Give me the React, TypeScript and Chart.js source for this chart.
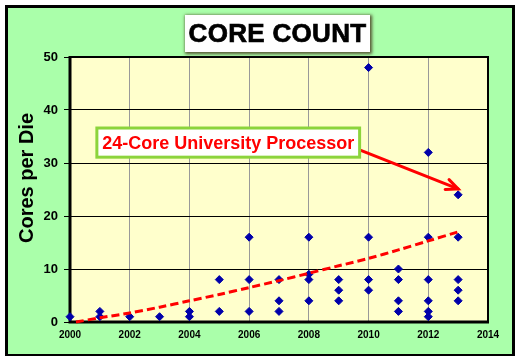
import React, { useEffect, useRef } from "react";
import { Chart, registerables } from "chart.js";

Chart.register(...registerables);

const chartTitle = "CORE COUNT";
const yAxisTitle = "Cores per Die";
const annotationText = "24-Core University Processor";

// Observed processors: release year and cores per die
const coreYears = [
  2000,
  2001, 2001,
  2002,
  2003,
  2004, 2004,
  2005, 2005,
  2006, 2006, 2006,
  2007, 2007, 2007,
  2008, 2008, 2008, 2008,
  2009, 2009, 2009,
  2010, 2010, 2010, 2010,
  2011, 2011, 2011, 2011,
  2012, 2012, 2012, 2012, 2012, 2012,
  2013, 2013, 2013, 2013, 2013,
];
const coreCounts = [
  1,
  2, 1,
  1,
  1,
  2, 1,
  8, 2,
  16, 8, 2,
  8, 4, 2,
  16, 9, 8, 4,
  8, 6, 4,
  48, 16, 8, 6,
  10, 8, 4, 2,
  32, 16, 8, 4, 2, 1,
  24, 16, 8, 6, 4,
];

// Trend line
const trendYears = [2000.2, 2001, 2002, 2003, 2004, 2005, 2006, 2007, 2008, 2009, 2010, 2011, 2012, 2013];
const trendValues = [0, 0.8, 1.7, 2.8, 4.0, 5.2, 6.5, 7.8, 9.2, 10.6, 12.0, 13.6, 15.3, 17.0];

// Axis ranges
const xMin = 2000;
const xMax = 2014;
const xStep = 2;
const yMin = 0;
const yMax = 50;
const yStep = 10;

// Annotation placement in data coordinates
const annotBox = { x0: 2000.9, x1: 2009.7, yTop: 36.6, yBottom: 31.1 };
const arrowFrom = { x: 2009.55, y: 32.8 };
const arrowTo = { x: 2013.0, y: 25.1 };

const FONT = "'Liberation Sans', Arial, sans-serif";

const framePlugin = {
  id: "framePlugin",
  beforeDraw(chart: any) {
    const { ctx, chartArea } = chart;
    ctx.save();
    ctx.fillStyle = "#FFFFCC";
    ctx.fillRect(chartArea.left, chartArea.top, chartArea.right - chartArea.left, chartArea.bottom - chartArea.top);
    ctx.restore();
  },
  beforeDatasetsDraw(chart: any) {
    const { ctx, chartArea } = chart;
    const { left, right, top, bottom } = chartArea;
    ctx.save();
    ctx.strokeStyle = "#000000";
    ctx.lineWidth = 2;
    ctx.beginPath();
    ctx.moveTo(left, top);
    ctx.lineTo(right, top);
    ctx.lineTo(right, bottom);
    ctx.stroke();
    ctx.lineWidth = 3;
    ctx.beginPath();
    ctx.moveTo(left, top - 1);
    ctx.lineTo(left, bottom);
    ctx.lineTo(right + 1, bottom);
    ctx.stroke();
    ctx.restore();
    // Y axis title
    ctx.save();
    ctx.fillStyle = "#000000";
    ctx.font = `bold 20px ${FONT}`;
    ctx.textAlign = "center";
    ctx.textBaseline = "middle";
    ctx.translate(27, 178);
    ctx.rotate(-Math.PI / 2);
    ctx.fillText(yAxisTitle, 0, 0);
    ctx.restore();
  },
  afterDraw(chart: any) {
    const { ctx } = chart;
    const xs = chart.scales.x;
    const ys = chart.scales.y;
    // Arrow
    const sx = xs.getPixelForValue(arrowFrom.x);
    const sy = ys.getPixelForValue(arrowFrom.y);
    const ex = xs.getPixelForValue(arrowTo.x);
    const ey = ys.getPixelForValue(arrowTo.y);
    ctx.save();
    ctx.strokeStyle = "#FF0000";
    ctx.lineWidth = 3;
    ctx.lineCap = "round";
    ctx.beginPath();
    ctx.moveTo(sx, sy);
    ctx.lineTo(ex, ey);
    ctx.stroke();
    const ang = Math.atan2(ey - sy, ex - sx);
    const hl = 13;
    const spread = 0.42;
    ctx.beginPath();
    ctx.moveTo(ex - hl * Math.cos(ang - spread), ey - hl * Math.sin(ang - spread));
    ctx.lineTo(ex, ey);
    ctx.lineTo(ex - hl * Math.cos(ang + spread), ey - hl * Math.sin(ang + spread));
    ctx.stroke();
    ctx.restore();
    // Box
    const bx0 = xs.getPixelForValue(annotBox.x0);
    const bx1 = xs.getPixelForValue(annotBox.x1);
    const by0 = ys.getPixelForValue(annotBox.yTop);
    const by1 = ys.getPixelForValue(annotBox.yBottom);
    ctx.save();
    ctx.fillStyle = "#FFFFFF";
    ctx.fillRect(bx0, by0, bx1 - bx0, by1 - by0);
    ctx.strokeStyle = "#8CD43C";
    ctx.lineWidth = 3;
    ctx.strokeRect(bx0, by0, bx1 - bx0, by1 - by0);
    ctx.fillStyle = "#FF0000";
    ctx.font = `bold 18px ${FONT}`;
    ctx.textAlign = "center";
    ctx.textBaseline = "middle";
    ctx.fillText(annotationText, (bx0 + bx1) / 2, (by0 + by1) / 2 + 1);
    ctx.restore();
  },
};

export default function App() {
  const canvasRef = useRef<HTMLCanvasElement | null>(null);

  useEffect(() => {
    document.body.style.margin = "0";
    const canvas = canvasRef.current;
    if (!canvas) return;
    const points = coreYears.map((x, i) => ({ x, y: coreCounts[i] }));
    const trend = trendYears.map((x, i) => ({ x, y: trendValues[i] }));
    const chart = new Chart(canvas, {
      type: "scatter",
      data: {
        datasets: [
          {
            type: "line",
            label: "Trend",
            data: trend,
            borderColor: "#FF0000",
            borderWidth: 3,
            borderDash: [8, 4],
            pointRadius: 0,
            fill: false,
            tension: 0.3,
            clip: false as any,
          },
          {
            label: "Cores",
            data: points,
            pointStyle: "rectRot",
            pointRadius: 4,
            pointBorderWidth: 1,
            backgroundColor: "#0000AA",
            borderColor: "#0000AA",
            clip: false as any,
          },
        ],
      },
      options: {
        animation: false,
        responsive: false,
        devicePixelRatio: 1,
        events: [],
        layout: { padding: { left: 0, right: 29, top: 57, bottom: 0 } },
        plugins: {
          legend: { display: false },
          tooltip: { enabled: false },
          title: { display: false },
        },
        scales: {
          x: {
            type: "linear",
            min: xMin,
            max: xMax,
            afterFit(scale: any) {
              scale.height = 34;
            },
            ticks: {
              stepSize: xStep,
              padding: 7,
              color: "#000000",
              font: { family: FONT, size: 10, weight: "bold" },
              callback: (v: any) => String(v),
              maxRotation: 0,
            },
            grid: {
              color: "#999999",
              lineWidth: 1,
              drawTicks: false,
            },
            border: { display: false },
          },
          y: {
            type: "linear",
            min: yMin,
            max: yMax,
            afterFit(scale: any) {
              scale.width = 70;
            },
            ticks: {
              stepSize: yStep,
              padding: 6,
              color: "#000000",
              font: { family: FONT, size: 13, weight: "bold" },
            },
            grid: {
              color: "#000000",
              lineWidth: 1,
              drawTicks: true,
              tickLength: 6,
              tickColor: "#000000",
            },
            border: { display: false },
          },
        },
      },
      plugins: [framePlugin],
    });
    return () => chart.destroy();
  }, []);

  return (
    <div style={{ position: "relative", width: 517, height: 356, background: "#FFFFFF", overflow: "hidden" }}>
      <div
        style={{
          position: "absolute",
          left: 5,
          top: 5,
          width: 510,
          height: 352,
          boxSizing: "border-box",
          border: "3px solid #000000",
          background: "#AAFFAA",
        }}
      />
      <canvas
        ref={canvasRef}
        width={517}
        height={356}
        style={{ position: "absolute", left: 0, top: 0, width: 517, height: 356 }}
      />
      <div
        style={{
          position: "absolute",
          left: 185,
          top: 15,
          width: 185,
          height: 37,
          background: "#FFFFFF",
          boxShadow: "1px 1px 3px 1px #555533",
          display: "flex",
          alignItems: "center",
          justifyContent: "center",
          fontFamily: FONT,
          fontWeight: "bold",
          fontSize: 26,
          color: "#000000",
          WebkitTextStroke: "0.7px #000000",
          letterSpacing: "0.3px",
        }}
      >
        {chartTitle}
      </div>
    </div>
  );
}
